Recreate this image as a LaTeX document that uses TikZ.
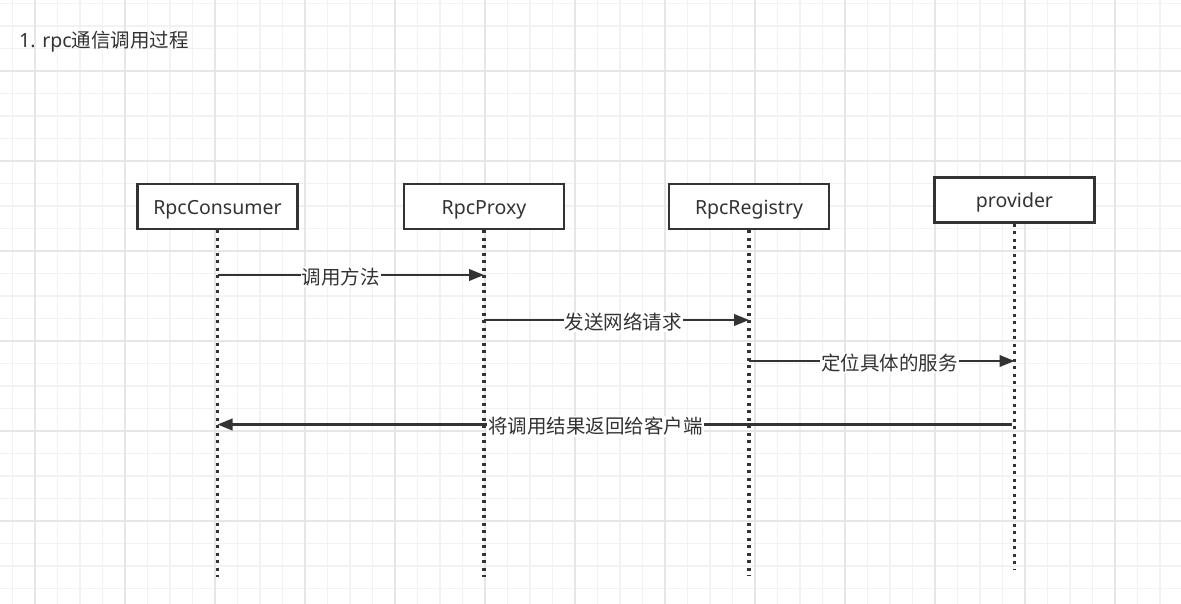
\documentclass[tikz,border=0pt]{standalone}
\usepackage{fontspec}
\setmainfont{Noto Sans}
\newfontfamily\cjk{Noto Sans CJK SC}
\usetikzlibrary{arrows.meta}
\definecolor{ink}{HTML}{333333}
\definecolor{gmin}{HTML}{F2F2F2}
\definecolor{gmaj}{HTML}{E6E6E6}
\tikzset{
  actor/.style={draw=ink, line width=2.2pt, fill=white, minimum width=160pt, minimum height=45pt, inner sep=0pt, text=ink, text height=18pt, text depth=2pt, font=\fontsize{19.5}{23}\selectfont},
  lifeline/.style={draw=ink, line width=3.2pt, dash pattern=on 3pt off 4.5pt},
  msg/.style={draw=ink, line width=2.2pt, -{Triangle[length=15pt,width=11.5pt]}},
  lbl/.style={fill=white, inner sep=1pt, yshift=-2pt, text=ink, font=\fontsize{19.5}{23}\selectfont\cjk},
}
\begin{document}
\begin{tikzpicture}[x=1pt,y=-1pt]
\useasboundingbox (0,0) rectangle (1181,604);
\fill[white] (0,0) rectangle (1181,604);
% grid
\foreach \k in {0,...,52} {
  \pgfmathsetmacro{\xx}{12.5+22.5*\k}
  \draw[gmin, line width=1.2pt] (\xx,0) -- (\xx,604);
}
\foreach \k in {0,...,26} {
  \pgfmathsetmacro{\yy}{3.5+22.5*\k}
  \draw[gmin, line width=1.2pt] (0,\yy) -- (1181,\yy);
}
\foreach \k in {0,...,13} {
  \pgfmathsetmacro{\xx}{35+90*\k}
  \draw[gmaj, line width=1.5pt] (\xx,0) -- (\xx,604);
}
\foreach \k in {0,...,6} {
  \pgfmathsetmacro{\yy}{-19+90*\k}
  \draw[gmaj, line width=1.5pt] (0,\yy) -- (1181,\yy);
}
% title
\node[anchor=west, inner sep=0pt, text=ink, font=\fontsize{19.5}{23}\selectfont] (title) at (19,41.5) {1. rpc{\cjk 通信调用过程}};
% actors
\node[actor] (c) at (217.5,206.5) {RpcConsumer};
\node[actor] (p) at (484,206.5) {RpcProxy};
\node[actor] (r) at (749,206.5) {RpcRegistry};
\node[actor] (v) at (1014.5,200) {provider};
% lifeline ends
\coordinate (ce) at (217.5,577);
\coordinate (pe) at (484,577);
\coordinate (re) at (749,576);
\coordinate (ve) at (1014.5,570);
\draw[lifeline] (c.south) -- (ce);
\draw[lifeline] (p.south) -- (pe);
\draw[lifeline] (r.south) -- (re);
\draw[lifeline] (v.south) -- (ve);
% message points
\coordinate (c1) at (217.5,275);
\coordinate (p1) at (484,275);
\coordinate (p2) at (484,320);
\coordinate (r2) at (749,320);
\coordinate (r3) at (749,361);
\coordinate (v3) at (1014.5,361);
\coordinate (v4) at (1012,424.5);
\coordinate (c4) at (217.5,424.5);
\draw[msg] (c1) -- node[lbl, pos=0.463] {调用方法} (p1);
\draw[msg] (p2) -- node[lbl, pos=0.526] {发送网络请求} (r2);
\draw[msg] (r3) -- node[lbl, pos=0.53] {定位具体的服务} (v3);
\draw[msg] (v4) -- node[lbl, pos=0.524] {将调用结果返回给客户端} (c4);
\end{tikzpicture}
\end{document}
